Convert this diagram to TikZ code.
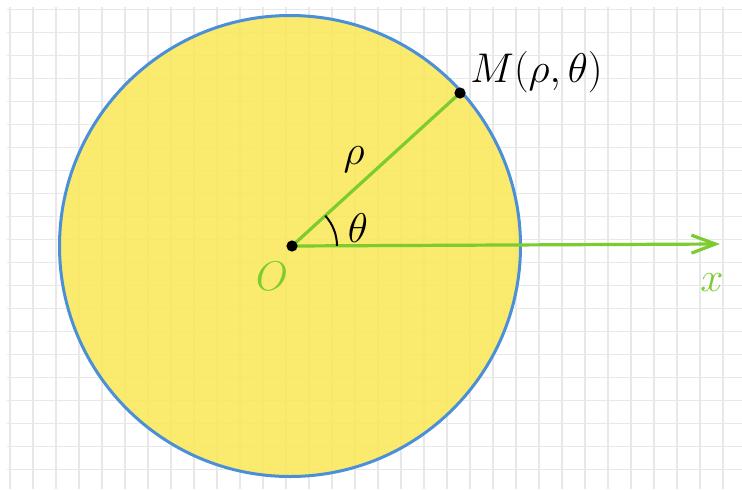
\documentclass[tikz,border=0pt]{standalone}
\usepackage{amsmath}
\usepackage{tikz}
\usetikzlibrary{arrows.meta,angles,calc}
\definecolor{DiskYellow}{HTML}{F9E85E}
\definecolor{RimBlue}{HTML}{4A8FD8}
\definecolor{RayGreen}{HTML}{7CCB2F}
\definecolor{GridGray}{HTML}{E8E8E8}

\begin{document}
\begin{tikzpicture}[
    x=0.5pt, y=0.5pt,
    gridline/.style={draw=GridGray, line width=0.8pt},
    disk/.style={fill=DiskYellow, fill opacity=0.9, draw=RimBlue, draw opacity=1, line width=1.5pt},
    ray/.style={draw=RayGreen, line width=1.6pt},
    axis/.style={ray, -{Straight Barb[length=12pt,width=9pt]}},
    dot/.style={circle, fill=black, inner sep=0pt, minimum size=5.6pt},
    lbl/.style={font=\fontsize{20}{24}\selectfont, inner sep=0pt}
  ]
    \useasboundingbox (0,0) rectangle (742,489);
    % background grid
    \foreach \i in {0,...,31}
      \draw[gridline] (10+23*\i,0) -- (10+23*\i,482);
    \foreach \j in {0,...,20}
      \draw[gridline] (7,479.7-23*\j) -- (742,479.7-23*\j);

    \coordinate (C) at (290,243);
    \path[disk] (C) circle[radius=230.5];
    \coordinate (O) at (292,243);
    \coordinate (M) at (460,396);
    \coordinate (X) at (720,245);

    \draw[axis] (O) -- (X);
    \draw[ray] (O) -- (M);
    \pic[draw, line width=1pt, angle radius=22.5pt] {angle=X--O--M};

    \node[dot] (Odot) at (O) {};
    \node[dot] (Mdot) at (M) {};
    \node[lbl] (rho) at (354,329) {$\rho$};
    \node[lbl] (theta) at (358,261) {$\theta$};
    \node[lbl, text=RayGreen] (Olabel) at (272,213) {$O$};
    \node[lbl, text=RayGreen] (xlabel) at (712,206) {$x$};
    \node[lbl, anchor=base west] (Mlabel) at ($(M)+(10,11)$) {$M(\rho,\theta)$};
  \end{tikzpicture}
\end{document}
